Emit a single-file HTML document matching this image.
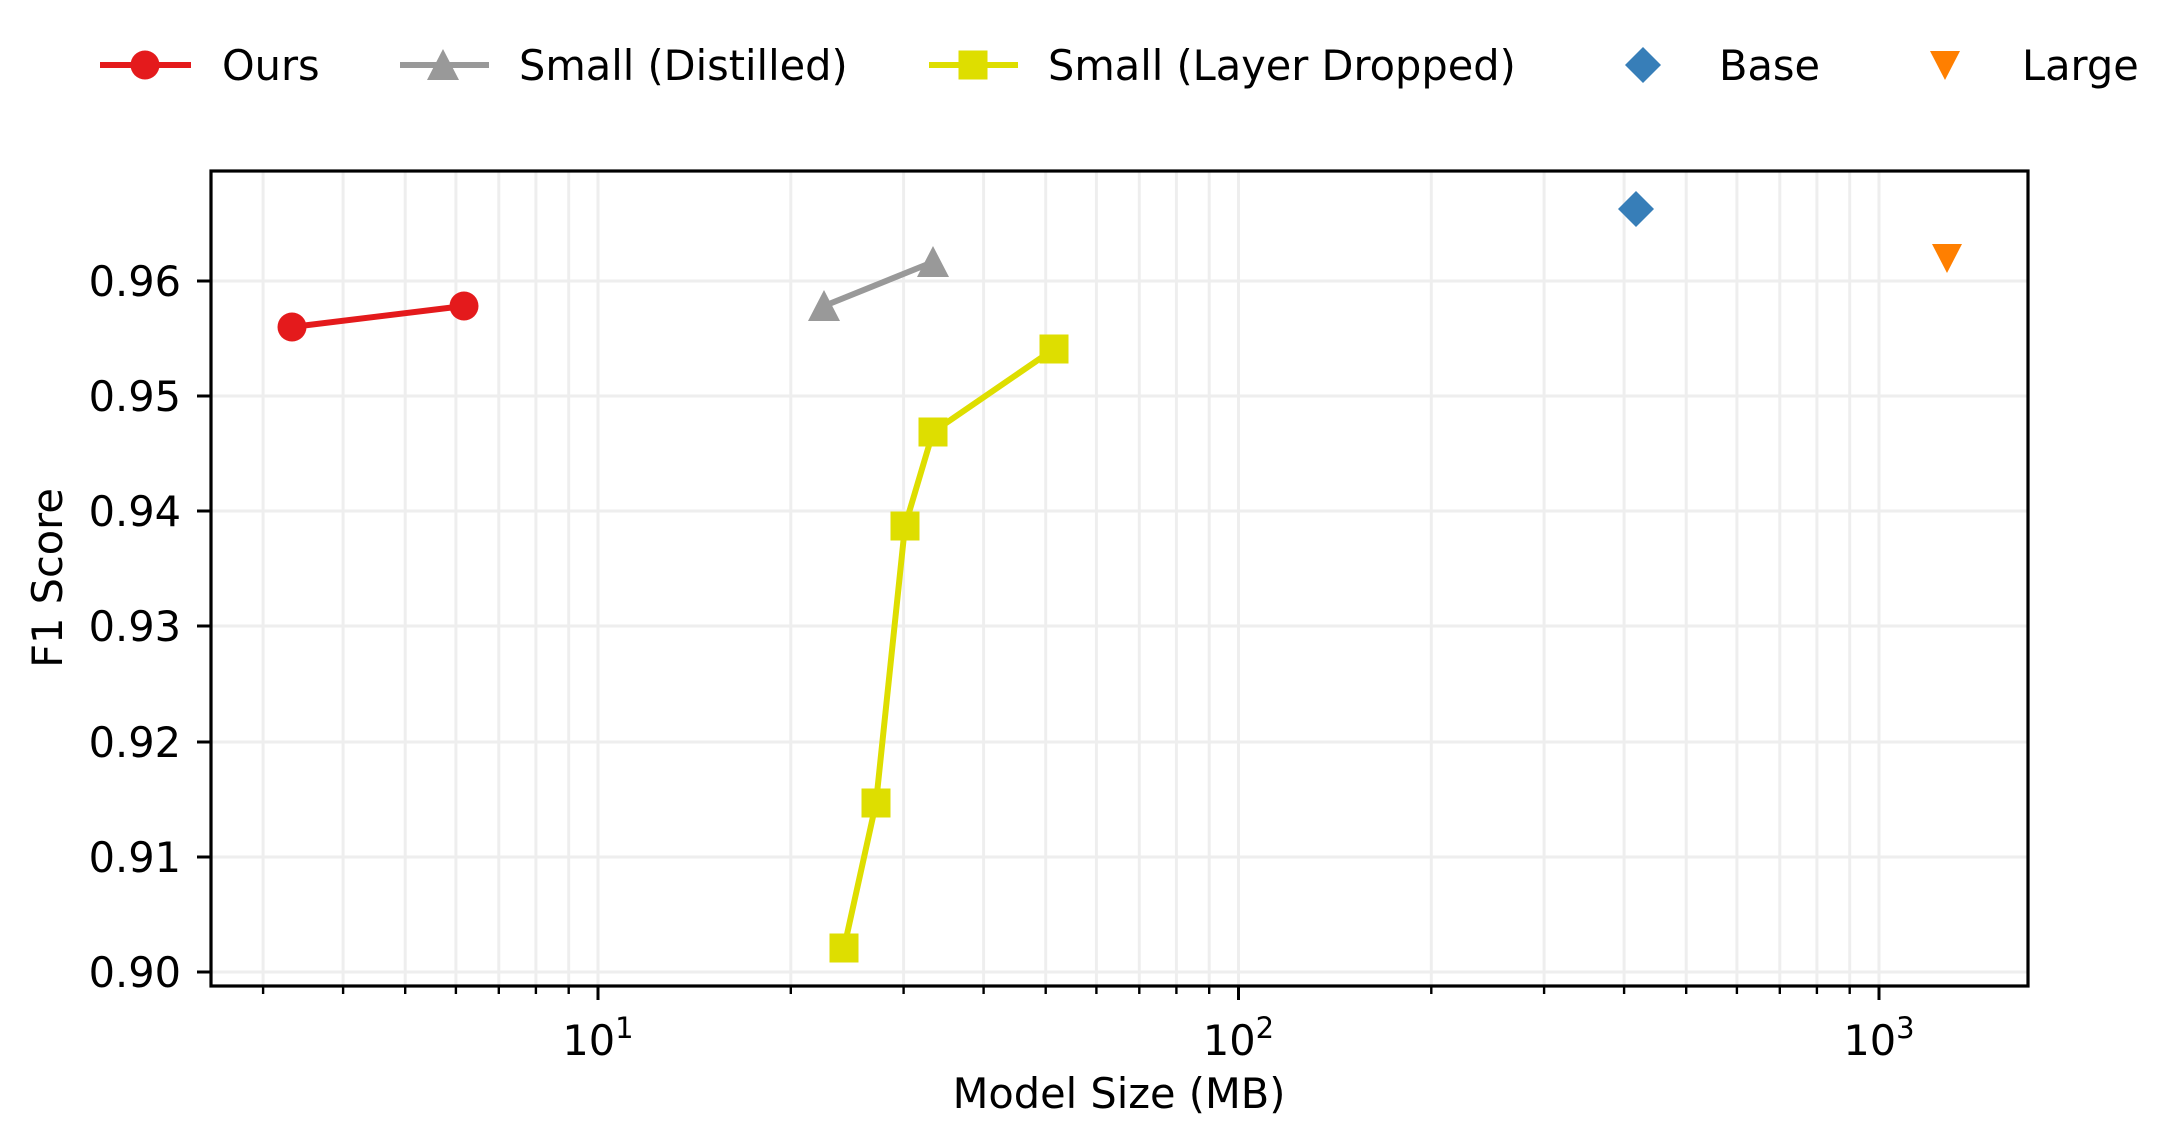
<!DOCTYPE html>
<html><head><meta charset="utf-8"><style>
html,body{margin:0;padding:0;background:#fff;}
svg{display:block;font-family:"DejaVu Sans","Liberation Sans",sans-serif;}
</style></head><body>
<svg width="2182" height="1145" viewBox="0 0 2182 1145" xmlns="http://www.w3.org/2000/svg">
<rect width="2182" height="1145" fill="#fff"/>
<!-- grid -->
<g stroke="#eeeeee" stroke-width="3">
<line x1="211" x2="2028" y1="972" y2="972"/>
<line x1="211" x2="2028" y1="857" y2="857"/>
<line x1="211" x2="2028" y1="742" y2="742"/>
<line x1="211" x2="2028" y1="626" y2="626"/>
<line x1="211" x2="2028" y1="511" y2="511"/>
<line x1="211" x2="2028" y1="396" y2="396"/>
<line x1="211" x2="2028" y1="281" y2="281"/>
<line x1="263.1" x2="263.1" y1="171" y2="986"/>
<line x1="343.1" x2="343.1" y1="171" y2="986"/>
<line x1="405.2" x2="405.2" y1="171" y2="986"/>
<line x1="455.9" x2="455.9" y1="171" y2="986"/>
<line x1="498.8" x2="498.8" y1="171" y2="986"/>
<line x1="535.9" x2="535.9" y1="171" y2="986"/>
<line x1="568.7" x2="568.7" y1="171" y2="986"/>
<line x1="598" x2="598" y1="171" y2="986"/>
<line x1="790.8" x2="790.8" y1="171" y2="986"/>
<line x1="903.6" x2="903.6" y1="171" y2="986"/>
<line x1="983.6" x2="983.6" y1="171" y2="986"/>
<line x1="1045.7" x2="1045.7" y1="171" y2="986"/>
<line x1="1096.4" x2="1096.4" y1="171" y2="986"/>
<line x1="1139.3" x2="1139.3" y1="171" y2="986"/>
<line x1="1176.4" x2="1176.4" y1="171" y2="986"/>
<line x1="1209.2" x2="1209.2" y1="171" y2="986"/>
<line x1="1238.5" x2="1238.5" y1="171" y2="986"/>
<line x1="1431.3" x2="1431.3" y1="171" y2="986"/>
<line x1="1544.1" x2="1544.1" y1="171" y2="986"/>
<line x1="1624.1" x2="1624.1" y1="171" y2="986"/>
<line x1="1686.2" x2="1686.2" y1="171" y2="986"/>
<line x1="1736.9" x2="1736.9" y1="171" y2="986"/>
<line x1="1779.8" x2="1779.8" y1="171" y2="986"/>
<line x1="1816.9" x2="1816.9" y1="171" y2="986"/>
<line x1="1849.7" x2="1849.7" y1="171" y2="986"/>
<line x1="1879" x2="1879" y1="171" y2="986"/>
</g>
<!-- ticks -->
<g stroke="#000" stroke-width="3">
<line x1="197" x2="211" y1="972" y2="972"/>
<line x1="197" x2="211" y1="857" y2="857"/>
<line x1="197" x2="211" y1="742" y2="742"/>
<line x1="197" x2="211" y1="626" y2="626"/>
<line x1="197" x2="211" y1="511" y2="511"/>
<line x1="197" x2="211" y1="396" y2="396"/>
<line x1="197" x2="211" y1="281" y2="281"/>
<line x1="598" x2="598" y1="986" y2="1000"/>
<line x1="1238.5" x2="1238.5" y1="986" y2="1000"/>
<line x1="1879" x2="1879" y1="986" y2="1000"/>
</g>
<g stroke="#000" stroke-width="2.4">
<line x1="263.1" x2="263.1" y1="986" y2="994"/>
<line x1="343.1" x2="343.1" y1="986" y2="994"/>
<line x1="405.2" x2="405.2" y1="986" y2="994"/>
<line x1="455.9" x2="455.9" y1="986" y2="994"/>
<line x1="498.8" x2="498.8" y1="986" y2="994"/>
<line x1="535.9" x2="535.9" y1="986" y2="994"/>
<line x1="568.7" x2="568.7" y1="986" y2="994"/>
<line x1="790.8" x2="790.8" y1="986" y2="994"/>
<line x1="903.6" x2="903.6" y1="986" y2="994"/>
<line x1="983.6" x2="983.6" y1="986" y2="994"/>
<line x1="1045.7" x2="1045.7" y1="986" y2="994"/>
<line x1="1096.4" x2="1096.4" y1="986" y2="994"/>
<line x1="1139.3" x2="1139.3" y1="986" y2="994"/>
<line x1="1176.4" x2="1176.4" y1="986" y2="994"/>
<line x1="1209.2" x2="1209.2" y1="986" y2="994"/>
<line x1="1431.3" x2="1431.3" y1="986" y2="994"/>
<line x1="1544.1" x2="1544.1" y1="986" y2="994"/>
<line x1="1624.1" x2="1624.1" y1="986" y2="994"/>
<line x1="1686.2" x2="1686.2" y1="986" y2="994"/>
<line x1="1736.9" x2="1736.9" y1="986" y2="994"/>
<line x1="1779.8" x2="1779.8" y1="986" y2="994"/>
<line x1="1816.9" x2="1816.9" y1="986" y2="994"/>
<line x1="1849.7" x2="1849.7" y1="986" y2="994"/>
</g>
<!-- tick labels -->
<g font-size="41.5" fill="#000" text-anchor="end">
<text x="181" y="987">0.90</text>
<text x="181" y="872">0.91</text>
<text x="181" y="757">0.92</text>
<text x="181" y="641">0.93</text>
<text x="181" y="526">0.94</text>
<text x="181" y="411">0.95</text>
<text x="181" y="296">0.96</text>
</g>
<g font-size="41.5" fill="#000" text-anchor="middle">
<text x="598" y="1055">10<tspan font-size="29" dy="-17">1</tspan></text>
<text x="1238.5" y="1055">10<tspan font-size="29" dy="-17">2</tspan></text>
<text x="1879" y="1055">10<tspan font-size="29" dy="-17">3</tspan></text>
<text x="1119" y="1108">Model Size (MB)</text>
<text transform="translate(62,578) rotate(-90)">F1 Score</text>
</g>
<!-- series -->
<polyline points="292,327 464,306" fill="none" stroke="#e41a1c" stroke-width="6"/>
<circle cx="292" cy="327" r="14.5" fill="#e41a1c"/>
<circle cx="464" cy="306" r="14.5" fill="#e41a1c"/>
<polyline points="824,306 933,262" fill="none" stroke="#999999" stroke-width="6"/>
<polygon points="824,290 840,321 808,321" fill="#999999"/>
<polygon points="933,246 949,277 917,277" fill="#999999"/>
<polyline points="844,948 876,803 905,526 933,432 1054,349" fill="none" stroke="#dede00" stroke-width="6"/>
<g fill="#dede00">
<rect x="829.5" y="933.5" width="29" height="29"/>
<rect x="861.5" y="788.5" width="29" height="29"/>
<rect x="890.5" y="511.5" width="29" height="29"/>
<rect x="918.5" y="417.5" width="29" height="29"/>
<rect x="1039.5" y="334.5" width="29" height="29"/>
</g>
<polygon points="1636,191 1654,209 1636,227 1618,209" fill="#377eb8"/>
<polygon points="1932,244 1962,244 1947,273" fill="#ff7f00"/>
<!-- spines -->
<rect x="211" y="171" width="1817" height="815" fill="none" stroke="#000" stroke-width="3.2"/>
<!-- legend -->
<g font-size="41.5" fill="#000">
<line x1="100" x2="191" y1="65" y2="65" stroke="#e41a1c" stroke-width="6"/>
<circle cx="145" cy="65" r="14.5" fill="#e41a1c"/>
<text x="222" y="80">Ours</text>
<line x1="400" x2="489" y1="65" y2="65" stroke="#999999" stroke-width="6"/>
<polygon points="443,49 459,80 427,80" fill="#999999"/>
<text x="519" y="80">Small (Distilled)</text>
<line x1="929" x2="1018" y1="65" y2="65" stroke="#dede00" stroke-width="6"/>
<rect x="958.5" y="50.5" width="29" height="29" fill="#dede00"/>
<text x="1048" y="80">Small (Layer Dropped)</text>
<polygon points="1643,47 1661,65 1643,83 1625,65" fill="#377eb8"/>
<text x="1719" y="80">Base</text>
<polygon points="1930,51 1960,51 1945,80" fill="#ff7f00"/>
<text x="2022" y="80">Large</text>
</g>
</svg>
</body></html>
